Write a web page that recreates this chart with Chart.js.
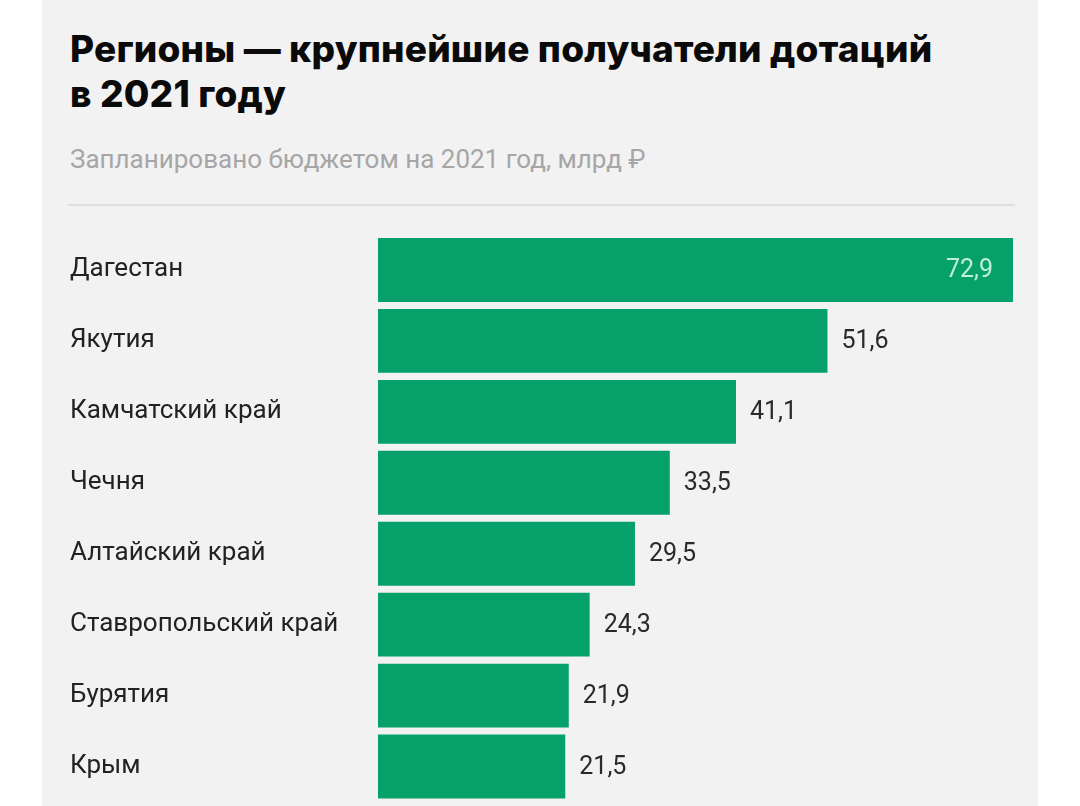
<!DOCTYPE html>
<html lang="ru">
<head>
  <meta charset="UTF-8">
  <title>Регионы — крупнейшие получатели дотаций в 2021 году</title>
  <script src="https://cdn.jsdelivr.net/npm/chart.js"></script>
  <style>
    html, body { margin: 0; padding: 0; background: #ffffff; }
    body { width: 1080px; height: 806px; overflow: hidden; position: relative; }
    .panel {
      position: absolute; left: 42px; top: 0; width: 996px; height: 806px;
      background: #f2f2f2;
    }
    h1 {
      position: absolute; left: 28px; top: 26px; margin: 0; width: 960px;
      font-family: "Inter", "Roboto", sans-serif; font-weight: 800;
      font-size: 37px; line-height: 45px; color: #0a0a0a; letter-spacing: 0.2px;
    }
    .sub {
      position: absolute; left: 28px; top: 146px; margin: 0;
      font-family: "Roboto", sans-serif; font-size: 26px; line-height: 26px; color: #a6a6a6;
    }
    .rule {
      position: absolute; left: 26px; top: 204px; width: 947px; height: 2px;
      background: #dedede;
    }
    .wrap { position: absolute; left: 0; top: 230px; width: 996px; height: 576px; }
  </style>
</head>
<body>

<div class="panel">
  <h1>Регионы — крупнейшие получатели дотаций<br>в 2021 году</h1>
  <p class="sub">Запланировано бюджетом на 2021 год, млрд ₽</p>
  <div class="rule"></div>
  <div class="wrap"><canvas id="grafico"></canvas></div>
</div>

<script>
  const regiones = ["Дагестан", "Якутия", "Камчатский край", "Чечня", "Алтайский край",
    "Ставропольский край", "Бурятия", "Крым"];
  const dotaciones = [72.9, 51.6, 41.1, 33.5, 29.5, 24.3, 21.9, 21.5];

  const verde = "#06a06a";

  // подписи значений: у первого столбца внутри, у остальных справа
  const etiquetas = {
    id: "etiquetas",
    afterDatasetsDraw(chart) {
      const ctx = chart.ctx;
      const meta = chart.getDatasetMeta(0);
      ctx.save();
      ctx.font = "25px Roboto, sans-serif";
      ctx.textBaseline = "middle";
      meta.data.forEach((bar, i) => {
        const texto = dotaciones[i].toFixed(1).replace(".", ",");
        if (i === 0) {
          ctx.fillStyle = "#bff0d5";
          ctx.textAlign = "right";
          ctx.fillText(texto, bar.x - 20, bar.y + 1);
        } else {
          ctx.fillStyle = "#2a2a2a";
          ctx.textAlign = "left";
          ctx.fillText(texto, bar.x + 14, bar.y + 1);
        }
      });
      ctx.restore();
    }
  };

  new Chart(document.getElementById("grafico"), {
    type: "bar",
    data: {
      labels: regiones,
      datasets: [{
        data: dotaciones,
        backgroundColor: verde,
        borderWidth: 0,
        barPercentage: 0.9,
        categoryPercentage: 1
      }]
    },
    options: {
      indexAxis: "y",
      responsive: true,
      maintainAspectRatio: false,
      animation: false,
      layout: { padding: { left: 28, right: 25, top: 4.5, bottom: 4 } },
      plugins: {
        legend: { display: false },
        tooltip: { enabled: false }
      },
      scales: {
        x: {
          display: false,
          min: 0,
          max: Math.max(...dotaciones)
        },
        y: {
          afterFit(scale) {
            scale.width = 308;
            scale.paddingTop = 0;
            scale.paddingBottom = 0;
          },
          grid: { display: false, drawTicks: false },
          border: { display: false },
          ticks: {
            crossAlign: "far",
            padding: 0,
            color: "#222222",
            font: { family: "Roboto", size: 26 }
          }
        }
      }
    },
    plugins: [etiquetas]
  });
</script>

</body>
</html>
